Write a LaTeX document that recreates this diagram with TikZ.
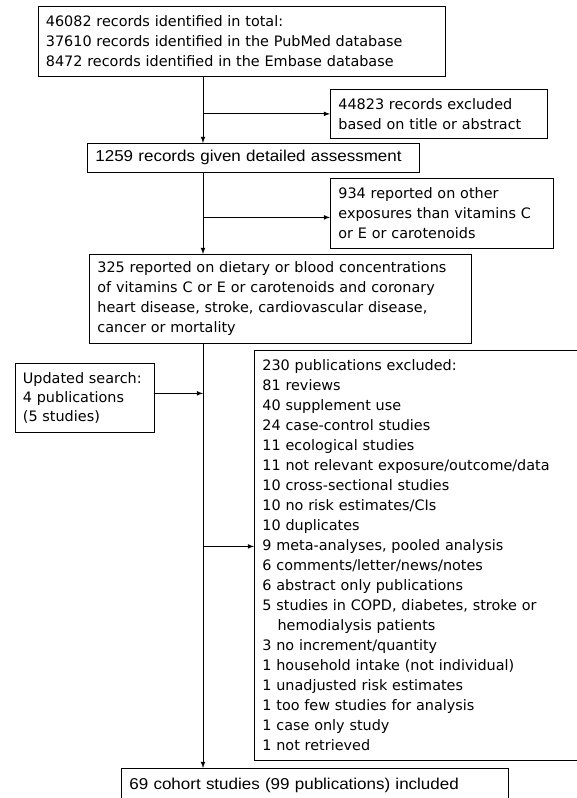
\documentclass[tikz,border=0pt]{standalone}
\usepackage{fontspec}
\setmainfont{Liberation Sans}[FakeStretch=1.08]
\newfontfamily\verd{DejaVu Sans}
\usetikzlibrary{positioning}

\begin{document}
\begin{tikzpicture}
  [x=0.75pt,y=-0.75pt,>=latex,line width=0.6pt,
   box/.style={draw,anchor=north west,align=left,inner xsep=6pt,inner ysep=2pt},
   arial/.style={font=\fontsize{11.8}{15}\selectfont},
   tahoma/.style={font=\verd\fontsize{10.8}{15}\selectfont}]

  \useasboundingbox (0,0) rectangle (576,798);
  \coordinate (spine) at (203,0);

  % main column
  \node[box,tahoma,text width=293.25pt,minimum height=52.5pt,inner ysep=2.4pt] (found) at (37.5,6)
    {46082 records identified in total:\\37610 records identified in the PubMed database\\8472 records identified in the Embase database\par\vspace*{7pt}};
  \node[box,arial,text width=237pt,minimum height=21.75pt] (detail) at (87,143)
    {1259 records given detailed assessment};
  \node[box,tahoma,text width=274.5pt,minimum height=66.75pt] (relevant) at (89,254)
    {\mbox{325 reported on dietary or blood concentrations}\\of vitamins C or E or carotenoids and coronary\\heart disease, stroke, cardiovascular disease,\\cancer or mortality};
  \node[box,arial,text width=278.25pt,minimum height=25.5pt] (final) at (121,768)
    {69 cohort studies (99 publications) included};

  % side boxes
  \node[box,tahoma,text width=150.75pt,minimum height=36.75pt] (title) at (330,89)
    {44823 records excluded\\based on title or abstract};
  \node[box,tahoma,text width=155.25pt,minimum height=52.5pt] (other) at (330,178)
    {934 reported on other\\exposures than vitamins C\\or E or carotenoids};
  \node[box,tahoma,font=\verd\fontsize{10.8}{14}\selectfont,text width=92.25pt,minimum height=51.75pt] (update) at (14.5,363)
    {\mbox{Updated search:}\\4 publications\\(5 studies)};
  \node[box,tahoma,text width=232.5pt,minimum height=307.5pt] (excl) at (254,350)
    {230 publications excluded:\\81 reviews\\40 supplement use\\24 case-control studies\\11 ecological studies\\
     \mbox{11 not relevant exposure/outcome/data}\\10 cross-sectional studies\\10 no risk estimates/CIs\\10 duplicates\\
     9 meta-analyses, pooled analysis\\6 comments/letter/news/notes\\6 abstract only publications\\
     5 studies in COPD, diabetes, stroke or\\\hspace*{1.05em}hemodialysis patients\\3 no increment/quantity\\
     1 household intake (not individual)\\1 unadjusted risk estimates\\1 too few studies for analysis\\
     1 case only study\\1 not retrieved};

  \coordinate (otherin) at ([yshift=-3pt]other.west);
  \coordinate (updout) at ([yshift=3.4pt]update.east);
  \coordinate (exclin) at ([yshift=6.75pt]excl.west);

  \draw[->] (found.south -| spine) -- (detail.north -| spine);
  \draw[->] (detail.south -| spine) -- (relevant.north -| spine);
  \draw[->] (relevant.south -| spine) -- (final.north -| spine);
  \draw[->] (spine |- title.west) -- (title.west);
  \draw[->] (otherin -| spine) -- (otherin);
  \draw[->] (updout) -- (updout -| spine);
  \draw[->] (exclin -| spine) -- (exclin);
\end{tikzpicture}
\end{document}
